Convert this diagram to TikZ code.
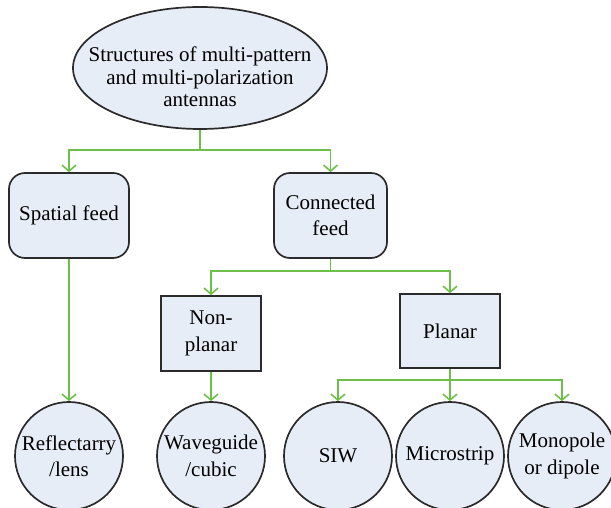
\documentclass[tikz,border=0pt]{standalone}
\usepackage{fontspec}
\setmainfont{Liberation Serif}
\usetikzlibrary{arrows.meta,shapes.geometric}
\definecolor{boxfill}{HTML}{E7EDF6}
\definecolor{boxdraw}{HTML}{2B2B2B}
\definecolor{linkgreen}{HTML}{6CC04A}
\tikzset{
  every node/.style={font=\fontsize{21}{26.5}\selectfont, align=center, text=black},
  base/.style={draw=boxdraw, fill=boxfill, line width=1.7pt, inner sep=0pt},
  rootshape/.style={base, ellipse, minimum width=254pt, minimum height=122pt},
  roottext/.style={font=\fontsize{21}{22.5}\selectfont},
  roundbox/.style={base, rectangle, rounded corners=16pt},
  sqbox/.style={base, rectangle},
  leaf/.style={base, circle, minimum size=108pt},
  link/.style={draw=linkgreen, line width=1.6pt},
  arr/.style={link, -{Straight Barb[length=6pt,width=14pt,line width=1.6pt]}},
}
\begin{document}
\begin{tikzpicture}[x=1pt,y=-1pt]
\useasboundingbox (0,0) rectangle (611,508);
\clip (0,0) rectangle (611,508);
\node[rootshape] (root) at (200,68) {};
\node[roottext] (roottxt) at (200,77) {Structures of multi-pattern\\and multi-polarization\\antennas};
\node[roundbox, minimum width=120pt, minimum height=85pt] (spatial) at (69,215.5) {Spatial feed};
\node[roundbox, minimum width=113pt, minimum height=85pt] (connected) at (330.5,215.5) {Connected\\feed};
\node[sqbox, minimum width=100pt, minimum height=75pt] (nonplanar) at (211,333.5) {Non-\\planar};
\node[sqbox, minimum width=100pt, minimum height=74pt] (planar) at (450,331) {Planar};
\node[leaf] (refl) at (69,456) {Reflectarry\\/lens};
\node[leaf] (wave) at (211,456) {Waveguide\\/cubic};
\node[leaf] (siw) at (338,456) {SIW};
\node[leaf] (micro) at (450,456) {Microstrip};
\node[leaf] (mono) at (562,456) {Monopole\\or dipole};
\coordinate (j1) at (200,150);
\coordinate (j2) at (330.5,271);
\coordinate (j3) at (450,380);
\draw[link] (root.south) -- (j1);
\draw[arr] (j1) -| (spatial.north);
\draw[arr] (j1) -| (connected.north);
\draw[arr] (spatial.south) -- (refl.north);
\draw[link] (connected.south) -- (j2);
\draw[arr] (j2) -| (nonplanar.north);
\draw[arr] (j2) -| (planar.north);
\draw[arr] (nonplanar.south) -- (wave.north);
\draw[link] (planar.south) -- (j3);
\draw[arr] (j3) -| (siw.north);
\draw[arr] (j3) -- (micro.north);
\draw[arr] (j3) -| (mono.north);
\end{tikzpicture}
\end{document}
